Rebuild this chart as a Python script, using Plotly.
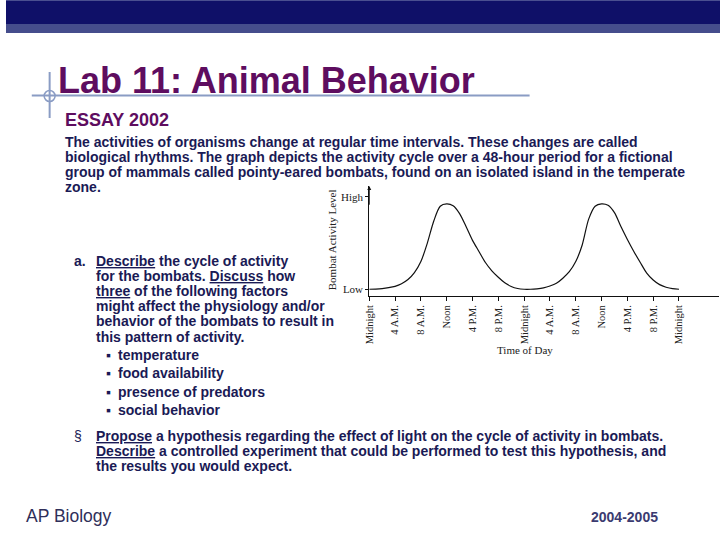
import plotly.graph_objects as go

# ---------------- data ----------------
hours = list(range(0, 49))
activity = [0.0, 0.02, 0.07, 0.17, 0.32, 0.6, 1.05, 1.8, 3.0, 5.0, 7.4, 9.0, 9.25, 9.05,
            8.2, 6.8, 5.3, 4.1, 2.9, 2.0, 1.3, 0.7, 0.3, 0.08, 0.0,
            0.0, 0.05, 0.15, 0.35, 0.65, 1.2, 1.9, 3.0, 4.8, 7.6, 9.0, 9.25, 9.1,
            8.3, 6.8, 5.4, 4.1, 2.9, 1.75, 1.0, 0.5, 0.22, 0.06, 0.0]
tick_hours = [0, 4, 8, 12, 16, 20, 24, 28, 32, 36, 40, 44, 48]
tick_labels = ["Midnight", "4 A.M.", "8 A.M.", "Noon", "4 P.M.", "8 P.M.",
               "Midnight", "4 A.M.", "8 A.M.", "Noon", "4 P.M.", "8 P.M.", "Midnight"]
level_vals = [0, 10]
level_labels = ["Low", "High"]

W, H = 720, 540


def px(x):
    return x / W


def py(y):
    return 1 - y / H


SANS = "Liberation Sans, Arial, sans-serif"
SERIF = "Liberation Serif, Times New Roman, serif"
NAVY = "#1a1a55"
PURPLE = "#5e0d5f"
RULE = "#8a9cc4"

fig = go.Figure()
fig.add_trace(go.Scatter(x=hours, y=activity, mode="lines",
                         line=dict(color="#111111", width=1.2, shape="spline", smoothing=0.8),
                         hoverinfo="skip", showlegend=False))

fig.update_layout(
    width=W, height=H,
    margin=dict(l=0, r=0, t=0, b=0),
    paper_bgcolor="white", plot_bgcolor="rgba(0,0,0,0)",
    showlegend=False,
    xaxis=dict(domain=[px(366.3), px(719)], range=[0, 54.2],
               tickvals=tick_hours, ticktext=tick_labels, tickangle=-90,
               tickfont=dict(family=SERIF, size=10.5, color="#222"),
               showline=True, linecolor="#111", linewidth=1,
               ticks="outside", ticklen=4, tickcolor="#111",
               showgrid=False, zeroline=False, fixedrange=True),
    yaxis=dict(domain=[py(296), py(186)], range=[-0.73, 11.19],
               tickvals=level_vals, ticktext=level_labels,
               tickfont=dict(family=SERIF, size=11, color="#222"),
               showline=True, linecolor="#111", linewidth=1,
               ticks="outside", ticklen=3, tickcolor="#111",
               showgrid=False, zeroline=False, fixedrange=True),
)

shapes = [
    dict(type="rect", xref="paper", yref="paper", x0=0, x1=1, y0=py(33), y1=py(24),
         fillcolor="#454d8c", line=dict(width=0)),
    dict(type="rect", xref="paper", yref="paper", x0=0, x1=1, y0=py(24), y1=py(1),
         fillcolor="#0f1068", line=dict(width=0)),
    dict(type="rect", xref="paper", yref="paper", x0=0, x1=1, y0=py(1), y1=1,
         fillcolor="#4a4f90", line=dict(width=0)),
    dict(type="line", xref="paper", yref="paper", x0=px(26), x1=px(528), y0=py(95.5), y1=py(95.5),
         line=dict(color=RULE, width=2)),
    dict(type="line", xref="paper", yref="paper", x0=px(44), x1=px(44), y0=py(72), y1=py(118),
         line=dict(color=RULE, width=2)),
    dict(type="circle", xref="paper", yref="paper", x0=px(38.5), x1=px(49.5), y0=py(101.5), y1=py(90.5),
         line=dict(color=RULE, width=1.5)),
]
fig.update_layout(shapes=shapes)

ann = []


def txt(x, y, s, size=14, color=NAVY, bold=True, family=SANS, xanchor="left", angle=0):
    ann.append(dict(x=px(x), y=py(y), xref="paper", yref="paper", text=s, showarrow=False,
                    xanchor=xanchor, yanchor="middle", textangle=angle,
                    font=dict(family=family, size=size, color=color,
                              weight="bold" if bold else "normal")))


txt(50, 80, "Lab 11: Animal Behavior", size=36, color=PURPLE)
txt(57, 120, "ESSAY 2002", size=18, color=PURPLE)
body = [
    "The activities of organisms change at regular time intervals. These changes are called",
    "biological rhythms. The graph depicts the activity cycle over a 48-hour period for a fictional",
    "group of mammals called pointy-eared bombats, found on an isolated island in the temperate",
    "zone.",
]
for i, line in enumerate(body):
    txt(57, 142 + 15 * i, line)

txt(67, 261, "a.")
part_a = [
    (261, "<u>Describe</u> the cycle of activity"),
    (276, "for the bombats. <u>Discuss</u> how"),
    (291, "<u>three</u> of the following factors"),
    (306, "might affect the physiology and/or"),
    (321, "behavior of the bombats to result in"),
    (337, "this pattern of activity."),
]
for y, line in part_a:
    txt(89, y, line)

bullets = [(355, "temperature"), (373, "food availability"),
           (392, "presence of predators"), (410, "social behavior")]
for y, line in bullets:
    txt(99, y, "▪", size=14)
    txt(111, y, line)

txt(67, 436, "§", bold=False)
part_b = [
    (436, "<u>Propose</u> a hypothesis regarding the effect of light on the cycle of activity in bombats."),
    (451, "<u>Describe</u> a controlled experiment that could be performed to test this hypothesis, and"),
    (466, "the results you would expect."),
]
for y, line in part_b:
    txt(89, y, line)

txt(18, 516, "AP Biology", size=17.5, color="#2f2f5a", bold=False)
txt(588, 517, "2004-2005", size=14, color="#3b3b70")

# chart labels
txt(523, 350, "Time of Day", size=11, color="#222", bold=False, family=SERIF, xanchor="center")
txt(329, 240, "Bombat Activity Level", size=11, color="#222", bold=False, family=SERIF,
    xanchor="center", angle=-90)

# arrow at top of y axis
ann.append(dict(x=0, y=11.19, xref="x", yref="y", ax=0, ay=9.0, axref="x", ayref="y",
                showarrow=True, arrowhead=2, arrowsize=0.8, arrowwidth=1, arrowcolor="#111", text=""))

fig.update_layout(annotations=ann)
fig.write_html("out.html", config={"displayModeBar": False},
               post_script="document.body.style.margin='0px';document.body.style.overflow='hidden';")
